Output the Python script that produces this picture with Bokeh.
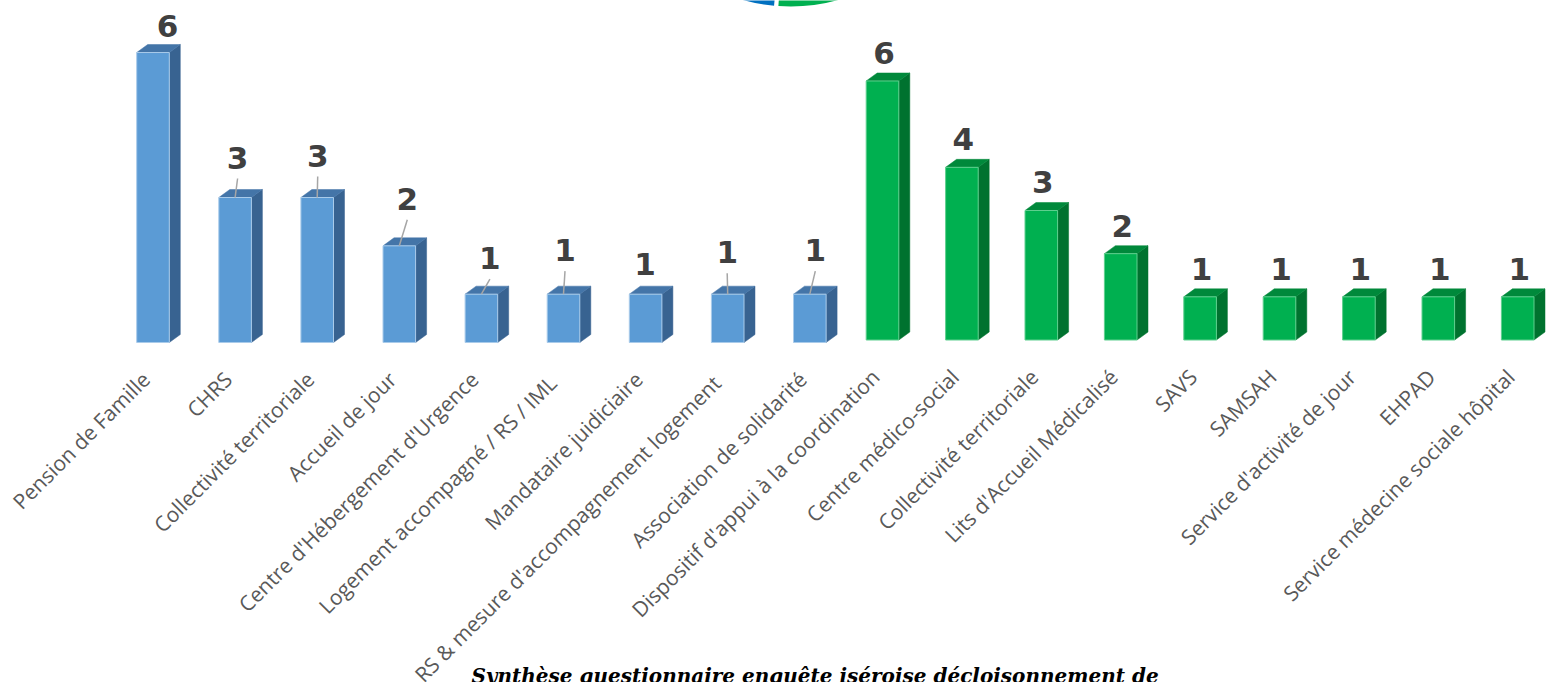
import math
from bokeh.plotting import figure
from bokeh.models import Range1d, Label
from bokeh.core.properties import value
from bokeh.embed import file_html
from bokeh.resources import INLINE

# ---------------- data ----------------
blue_categories = [
    "Pension de Famille",
    "CHRS",
    "Collectivité territoriale",
    "Accueil de jour",
    "Centre d'Hébergement d'Urgence",
    "Logement accompagné  / RS / IML",
    "Mandataire juidiciaire",
    "RS  & mesure d'accompagnement logement",
    "Association de solidarité",
]
blue_values = [6, 3, 3, 2, 1, 1, 1, 1, 1]

green_categories = [
    "Dispositif d'appui à la coordination",
    "Centre médico-social",
    "Collectivité territoriale",
    "Lits d'Accueil Médicalisé",
    "SAVS",
    "SAMSAH",
    "Service d'activité de jour",
    "EHPAD",
    "Service médecine sociale hôpital",
]
green_values = [6, 4, 3, 2, 1, 1, 1, 1, 1]

title_text = "Synthèse questionnaire enquête iséroise décloisonnement de"

# ---------------- layout / style ----------------
W, H = 1553, 682
# blue group: first bar centre px, px per slot, baseline px, px per unit
B_X0, B_SX, B_BASE, B_SY = 152.5, 82.1, 342.0, 48.33
G_X0, G_SX, G_BASE, G_SY = 882.0, 79.4, 339.5, 43.17

BLUE = dict(front="#5B9BD5", side="#386391", top="#4475A8", edge="#A9CBEA")
GREEN = dict(front="#00B050", side="#00722F", top="#00893B", edge="#5FD08F")

# value-label placement (px, relative to front-top centre; up positive)
blue_lbl_dx = [14.5, 2.5, 0.5, 8, 8.5, 1.5, -0.5, -0.5, 5.5]
blue_lbl_dy = [27, 40, 42, 47, 36, 44, 30, 42, 44]
blue_leader = [False, True, True, True, True, True, False, True, True]

p = figure(
    width=W, height=H,
    x_range=Range1d(-B_X0 / B_SX, (W - B_X0) / B_SX),
    y_range=Range1d(-(H - B_BASE) / B_SY, B_BASE / B_SY),
    output_backend="svg", toolbar_location=None,
    x_axis_location=None, y_axis_location=None,
    min_border=0,
)
p.extra_x_ranges = {"g": Range1d(-G_X0 / G_SX, (W - G_X0) / G_SX)}
p.extra_y_ranges = {"g": Range1d(-(H - G_BASE) / G_SY, G_BASE / G_SY)}
p.grid.visible = False
p.outline_line_color = None
p.background_fill_color = "white"
p.border_fill_color = "white"


def draw_group(names, vals, sx, sy, col, rx, ry, lbl_dx, lbl_dy, leaders):
    idx = list(range(len(vals)))
    hw = 16.3 / sx
    dx = 11.0 / sx
    dy = 8.0 / sy
    kw = dict(x_range_name=rx, y_range_name=ry)
    side_xs = [[i + hw, i + hw + dx, i + hw + dx, i + hw] for i in idx]
    side_ys = [[0, dy, v + dy, v] for v in vals]
    top_xs = [[i - hw, i - hw + dx, i + hw + dx, i + hw] for i in idx]
    top_ys = [[v, v + dy, v + dy, v] for v in vals]
    p.patches(side_xs, side_ys, fill_color=col["side"], line_color=col["side"], line_width=0.5, **kw)
    p.patches(top_xs, top_ys, fill_color=col["top"], line_color=col["top"], line_width=0.5, **kw)
    p.quad(left=[i - hw for i in idx], right=[i + hw for i in idx], bottom=0, top=vals,
           fill_color=col["front"], line_color=col["edge"], line_width=1, **kw)

    lx = [i + d / sx for i, d in zip(idx, lbl_dx)]
    ly = [v + d / sy for v, d in zip(vals, lbl_dy)]
    # leader lines
    seg = [(x, y, i, v) for x, y, i, v, f in zip(lx, ly, idx, vals, leaders) if f]
    if seg:
        p.segment(x0=[s[0] for s in seg], y0=[s[1] - 21 / sy for s in seg],
                  x1=[s[2] for s in seg], y1=[s[3] for s in seg],
                  line_color="#A6A6A6", line_width=1.5, **kw)
    p.text(x=lx, y=ly, text=[str(v) for v in vals], text_align="center", text_baseline="middle",
           text_font=value("DejaVu Sans"), text_font_style="bold", text_font_size="31px",
           text_color="#404040", **kw)
    # category labels
    p.text(x=[i - 7 / sx for i in idx], y=[-33 / sy] * len(idx), text=names, angle=math.pi / 4,
           text_align="right", text_baseline="middle",
           text_font=value("Open Sans"), text_font_size="21px", text_color="#595959", **kw)


draw_group(blue_categories, blue_values, B_SX, B_SY, BLUE, "default", "default",
           blue_lbl_dx, blue_lbl_dy, blue_leader)
draw_group(green_categories, green_values, G_SX, G_SY, GREEN, "g", "g",
           [1.5] * 9, [28] * 9, [False] * 9)

# partial logo ring at the top
cx = (790 - B_X0) / B_SX
cy = (B_BASE + 172) / B_SY
p.annular_wedge(x=cx, y=cy, inner_radius=165, outer_radius=178,
                inner_radius_units="screen", outer_radius_units="screen",
                start_angle=math.radians(-112), end_angle=math.radians(-95.3),
                fill_color="#0070C0", line_color=None)
p.annular_wedge(x=cx, y=cy, inner_radius=165, outer_radius=178,
                inner_radius_units="screen", outer_radius_units="screen",
                start_angle=math.radians(-93.9), end_angle=math.radians(-68),
                fill_color="#00B050", line_color=None)

p.add_layout(Label(x=814.5, y=7, x_units="screen", y_units="screen", text=title_text,
                   text_align="center", text_baseline="alphabetic",
                   text_font="DejaVu Serif", text_font_style="bold italic",
                   text_font_size="20px", text_color="black"))

open("out.html", "w").write(file_html(p, INLINE))
